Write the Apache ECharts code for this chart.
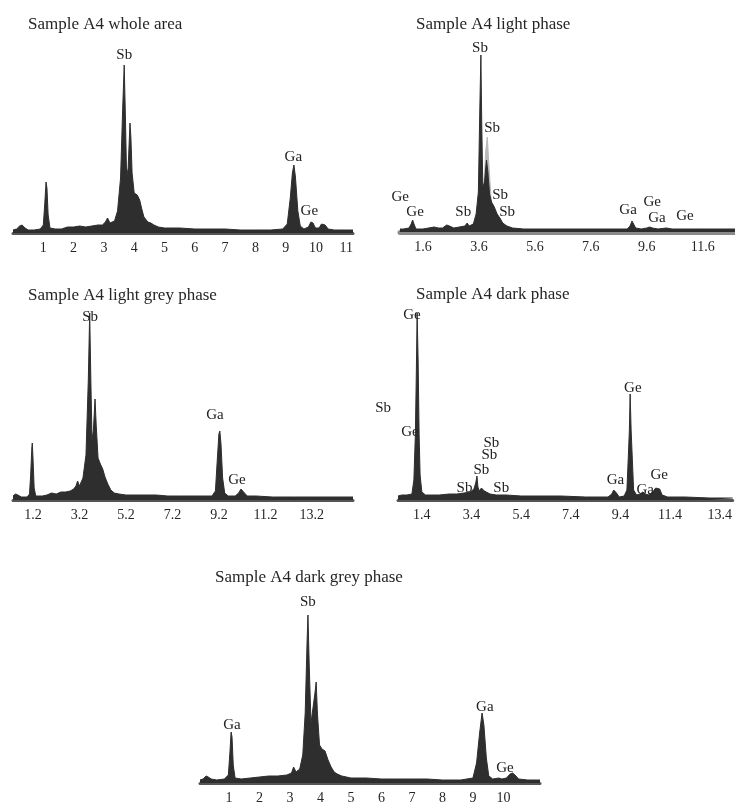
<!DOCTYPE html>
<html>
<head>
<meta charset="utf-8">
<script src="https://cdn.jsdelivr.net/npm/echarts@6/dist/echarts.min.js"></script>
<style>
html,body{margin:0;padding:0;background:#fff;}
#chart{width:735px;height:808px;}
</style>
</head>
<body>
<div id="chart"></div>
<script>
// ---- titles ----
const titles = ["Sample A4 whole area", "Sample A4 light phase", "Sample A4 light grey phase", "Sample A4 dark phase", "Sample A4 dark grey phase"];

// ---- tick labels (keV) ----
const ticksWhole = [1, 2, 3, 4, 5, 6, 7, 8, 9, 10, 11];
const ticksLight = [1.6, 3.6, 5.6, 7.6, 9.6, 11.6];
const ticksLightGrey = [1.2, 3.2, 5.2, 7.2, 9.2, 11.2, 13.2];
const ticksDark = [1.4, 3.4, 5.4, 7.4, 9.4, 11.4, 13.4];
const ticksDarkGrey = [1, 2, 3, 4, 5, 6, 7, 8, 9, 10];

// ---- spectra: [energy keV, counts] ----
const wholeArea = [[0,3],[0.12,4],[0.22,7],[0.3,8],[0.4,5],[0.5,3],[0.7,3],[0.9,4],[1.0,8],[1.05,30],[1.09,51],[1.12,45],[1.16,18],[1.22,5],[1.4,4],[1.6,4],[1.8,6],[2.0,6],[2.2,7],[2.4,6],[2.6,7],[2.8,8],[2.95,8],[3.05,11],[3.12,15],[3.2,10],[3.35,12],[3.45,22],[3.55,55],[3.62,125],[3.67,168],[3.71,115],[3.75,55],[3.8,65],[3.86,110],[3.89,96],[3.93,60],[4.0,40],[4.1,38],[4.18,33],[4.25,24],[4.32,16],[4.38,17],[4.45,11],[4.55,10],[4.65,8],[4.8,6],[5.0,5],[5.5,5],[6.0,4],[6.5,4],[7.0,4],[7.5,3],[8.0,3],[8.5,3],[8.9,4],[9.05,9],[9.15,35],[9.22,60],[9.27,68],[9.32,56],[9.4,22],[9.48,7],[9.6,4],[9.75,6],[9.83,11],[9.9,10],[9.98,5],[10.1,5],[10.18,9],[10.24,10],[10.3,8],[10.4,4],[10.6,3],[11.0,3],[11.22,3]];

const lightPhase = [[0.78,3],[0.9,3],[1.1,4],[1.18,8],[1.23,12],[1.28,8],[1.35,3],[1.6,3],[1.8,4],[2.0,5],[2.15,4],[2.3,4],[2.45,7],[2.55,6],[2.7,4],[2.9,5],[3.1,6],[3.18,9],[3.25,6],[3.4,8],[3.5,18],[3.58,40],[3.63,120],[3.67,177],[3.7,110],[3.74,45],[3.8,50],[3.87,72],[3.92,60],[3.98,38],[4.05,30],[4.15,25],[4.25,18],[4.35,14],[4.45,9],[4.6,6],[4.8,4],[5.2,3],[6,3],[7,3],[8,3],[8.9,3],[9.0,6],[9.07,11],[9.12,10],[9.2,4],[9.4,3],[9.6,4],[9.7,5],[9.8,4],[10.0,3],[10.3,4],[10.5,3],[11.5,3],[12.75,3]];
const lightPhaseShade = [[3.72,0],[3.78,45],[3.84,80],[3.9,95],[3.95,70],[4.02,40],[4.1,0]];

const lightGreyPhase = [[0.34,4],[0.45,6],[0.55,5],[0.7,3],[0.95,3],[1.05,6],[1.1,25],[1.15,52],[1.17,57],[1.2,42],[1.25,12],[1.32,4],[1.6,4],[1.8,5],[2.0,7],[2.2,6],[2.4,8],[2.6,8],[2.8,9],[2.95,11],[3.05,14],[3.12,19],[3.2,14],[3.35,22],[3.48,45],[3.58,120],[3.64,187],[3.69,120],[3.74,60],[3.8,70],[3.87,101],[3.92,75],[4.0,42],[4.1,36],[4.2,31],[4.3,23],[4.42,16],[4.55,10],[4.7,7],[4.9,6],[5.2,5],[5.6,5],[6,5],[6.5,5],[7,4],[7.5,4],[8,4],[8.5,4],[8.9,4],[9.05,9],[9.13,40],[9.2,66],[9.24,69],[9.29,56],[9.36,22],[9.45,7],[9.6,4],[9.9,4],[10.05,7],[10.15,11],[10.22,11],[10.3,7],[10.42,4],[10.8,4],[11.5,3],[12.5,3],[13.5,3],[14.97,3]];

const darkPhase = [[0.44,4],[0.6,5],[0.8,5],[1.0,6],[1.08,20],[1.14,66],[1.18,130],[1.21,187],[1.25,140],[1.29,66],[1.33,25],[1.4,8],[1.55,5],[1.8,5],[2.1,5],[2.5,6],[2.8,6],[3.1,7],[3.35,8],[3.5,11],[3.58,18],[3.62,24],[3.66,13],[3.72,9],[3.8,12],[3.86,13],[3.92,9],[4.0,8],[4.15,6],[4.4,5],[4.8,5],[5.4,4],[6,4],[7,4],[8,3],[8.9,3],[9.05,6],[9.13,10],[9.18,11],[9.24,7],[9.35,3],[9.55,4],[9.66,10],[9.72,45],[9.76,70],[9.79,106],[9.83,70],[9.88,40],[9.93,10],[10.05,5],[10.2,6],[10.3,8],[10.4,6],[10.55,5],[10.7,8],[10.82,12],[10.9,14],[10.98,11],[11.08,5],[11.3,3],[12,3],[13,2],[13.92,2]];

const darkGreyPhase = [[0.05,3],[0.15,4],[0.25,7],[0.32,6],[0.42,4],[0.6,3],[0.85,4],[0.98,8],[1.03,30],[1.07,51],[1.1,46],[1.14,18],[1.2,5],[1.4,4],[1.7,5],[2.0,6],[2.3,7],[2.6,7],[2.9,8],[3.05,10],[3.12,16],[3.2,11],[3.32,14],[3.42,28],[3.5,70],[3.56,140],[3.59,168],[3.63,120],[3.69,60],[3.75,62],[3.82,90],[3.86,101],[3.9,70],[3.97,38],[4.05,34],[4.15,32],[4.25,23],[4.35,16],[4.45,11],[4.55,9],[4.7,7],[5.0,5],[5.5,5],[6.0,4],[6.5,4],[7.0,4],[7.5,4],[8.0,3],[8.6,3],[9.0,5],[9.12,20],[9.22,50],[9.3,70],[9.36,58],[9.44,25],[9.52,7],[9.65,4],[9.85,5],[9.95,4],[10.1,5],[10.22,9],[10.3,10],[10.38,8],[10.5,4],[10.8,3],[11.2,3]];

// ---- peak labels: [energy keV, counts, text] ----
const labelsWhole = [[3.67,178,"Sb"],[9.25,76,"Ga"],[9.78,22,"Ge"]];
const labelsLight = [[0.79,35,"Ge"],[1.32,20,"Ge"],[3.04,20,"Sb"],[3.64,184,"Sb"],[4.07,104,"Sb"],[4.36,37,"Sb"],[4.61,20,"Sb"],[8.93,22,"Ga"],[9.79,30,"Ge"],[9.96,14,"Ga"],[10.96,16,"Ge"]];
const labelsLightGrey = [[3.66,183,"Sb"],[9.03,85,"Ga"],[9.98,20,"Ge"]];
const labelsDark = [[1.0,185,"Ge"],[-0.16,92,"Sb"],[0.92,68,"Ge"],[4.2,57,"Sb"],[4.12,45,"Sb"],[3.8,30,"Sb"],[3.12,12,"Sb"],[4.6,12,"Sb"],[9.2,20,"Ga"],[9.9,112,"Ge"],[10.4,10,"Ga"],[10.96,25,"Ge"]];
const labelsDarkGrey = [[1.1,58,"Ga"],[3.59,181,"Sb"],[9.39,76,"Ga"],[10.05,15,"Ge"]];

// ---- layout ----
const FONT = "Liberation Serif";
const TXT = "#262626";
const FILL = "#2e2e2e";
const panels = [
  {grid:{left:13, top:33, width:340, height:200}, min:0, max:11.22, ticks:ticksWhole, data:wholeArea, labels:labelsWhole, axisColor:"#555", axisWidth:3, title:{left:23, top:11}},
  {grid:{left:400, top:32, width:335, height:200}, min:0.78, max:12.75, ticks:ticksLight, data:lightPhase, shade:lightPhaseShade, labels:labelsLight, axisColor:"#8a8a8a", axisWidth:5, title:{left:411, top:11}},
  {grid:{left:13, top:300, width:340, height:200}, min:0.34, max:14.97, ticks:ticksLightGrey, data:lightGreyPhase, labels:labelsLightGrey, axisColor:"#555", axisWidth:3, title:{left:23, top:282}},
  {grid:{left:398, top:300, width:337, height:200}, min:0.44, max:13.92, ticks:ticksDark, data:darkPhase, labels:labelsDark, axisColor:"#555", axisWidth:3, title:{left:411, top:281}},
  {grid:{left:200, top:583, width:340, height:200}, min:0.05, max:11.2, ticks:ticksDarkGrey, data:darkGreyPhase, labels:labelsDarkGrey, axisColor:"#555", axisWidth:3, title:{left:210, top:564}}
];

const option = {
  animation: false,
  backgroundColor: "#fff",
  title: [], grid: [], xAxis: [], yAxis: [], series: []
};

panels.forEach((p, i) => {
  option.title.push({text: titles[i], left: p.title.left, top: p.title.top,
    textStyle:{fontFamily: FONT, fontSize: 17, fontWeight: "normal", color: TXT}});
  option.grid.push(p.grid);
  option.xAxis.push({
    type: "value", gridIndex: i, min: p.min, max: p.max,
    splitLine:{show:false},
    axisLine:{show:true, onZero:false, lineStyle:{color:p.axisColor, width:p.axisWidth}},
    axisTick:{show:false},
    axisLabel:{show:true, customValues:p.ticks, margin:8, fontFamily:FONT, fontSize:14, color:TXT,
      formatter: v => (Number.isInteger(p.ticks[0]) ? String(Math.round(v)) : v.toFixed(1))}
  });
  option.yAxis.push({type:"value", gridIndex:i, min:0, max:200, show:false, splitLine:{show:false}});
  if (p.shade) {
    option.series.push({type:"line", xAxisIndex:i, yAxisIndex:i, data:p.shade, showSymbol:false, z:1,
      lineStyle:{width:1, color:"#b8b8b8"}, areaStyle:{color:"#b8b8b8", opacity:1}});
  }
  option.series.push({type:"line", xAxisIndex:i, yAxisIndex:i, data:p.data, showSymbol:false, z:2,
    lineStyle:{width:1, color:FILL}, areaStyle:{color:FILL, opacity:1}});
  option.series.push({type:"scatter", xAxisIndex:i, yAxisIndex:i, clip:false, z:5,
    data:p.labels, symbolSize:0, itemStyle:{color:"#222"},
    label:{show:true, position:"inside", formatter: d => d.value[2],
      fontFamily:FONT, fontSize:15, color:"#222", textBorderWidth:0, opacity:1}});
});

const chart = echarts.init(document.getElementById("chart"), null, {renderer:"canvas"});
chart.setOption(option);
</script>
</body>
</html>
